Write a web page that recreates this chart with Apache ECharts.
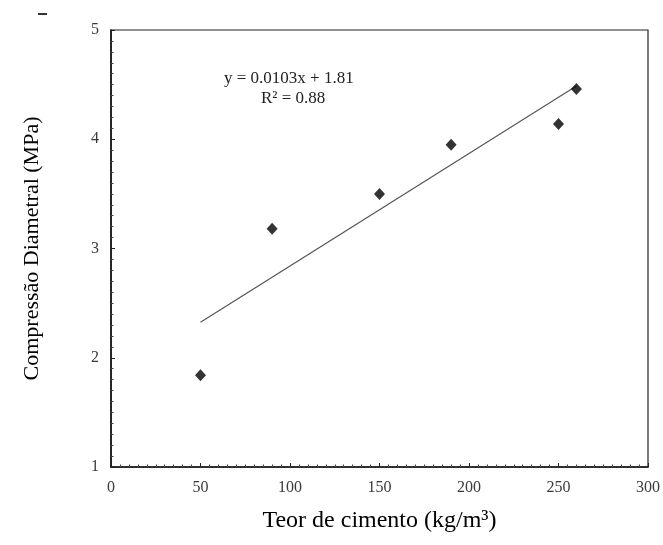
<!DOCTYPE html>
<html>
<head>
<meta charset="utf-8">
<script src="https://cdn.jsdelivr.net/npm/echarts@6/dist/echarts.min.js"></script>
<style>
  html, body { margin: 0; padding: 0; background: #fff; }
  #chart { width: 663px; height: 545px; }
</style>
</head>
<body>
<div id="chart"></div>
<script>
// Cement content (kg/m³) and diametral compression strength (MPa)
const cementContent = [50, 90, 150, 190, 250, 260];
const strength = [1.84, 3.18, 3.50, 3.95, 4.14, 4.46];

// Linear trend: y = slope * x + intercept, drawn over the data range
const trendSlope = 0.0103;
const trendIntercept = 1.81;
const trendR2 = 0.88;
const trendRange = [50, 260];

const xTicks = { min: 0, max: 300, interval: 50 };
const yTicks = { min: 1, max: 5, interval: 1 };

const trendLine = trendRange.map(x => [x, trendSlope * x + trendIntercept]);
const points = cementContent.map((x, i) => [x, strength[i]]);

const serif = '"Liberation Serif", "DejaVu Serif", serif';

const chart = echarts.init(document.getElementById('chart'), null, { renderer: 'canvas' });
chart.setOption({
  animation: false,
  backgroundColor: '#fff',
  grid: {
    left: 111, top: 30, right: 12, bottom: 78,
    show: true, borderColor: '#222', borderWidth: 1.2, backgroundColor: 'transparent'
  },
  xAxis: {
    type: 'value',
    min: xTicks.min, max: xTicks.max, interval: xTicks.interval,
    name: 'Teor de cimento (kg/m³)',
    nameLocation: 'middle',
    nameGap: 42,
    nameTextStyle: { fontFamily: serif, fontSize: 24, color: '#000' },
    axisLine: { show: true, lineStyle: { color: '#111', width: 1.6 } },
    axisTick: { show: true, inside: true, length: 4, lineStyle: { color: '#222' } },
    minorTick: { show: true, splitNumber: 10, length: 2.5, lineStyle: { color: '#444' } },
    axisLabel: { fontFamily: serif, fontSize: 16, color: '#3a3a3a', margin: 13 },
    splitLine: { show: false }
  },
  yAxis: {
    type: 'value',
    min: yTicks.min, max: yTicks.max, interval: yTicks.interval,
    name: 'Compressão Diametral (MPa)',
    nameLocation: 'middle',
    nameGap: 68,
    nameTextStyle: { fontFamily: serif, fontSize: 22, color: '#000' },
    axisLine: { show: true, lineStyle: { color: '#111', width: 1.6 } },
    axisTick: { show: true, inside: true, length: 4, lineStyle: { color: '#222' } },
    minorTick: { show: true, splitNumber: 10, length: 2.5, lineStyle: { color: '#444' } },
    axisLabel: { fontFamily: serif, fontSize: 16, color: '#3a3a3a', margin: 12 },
    splitLine: { show: false }
  },
  series: [
    {
      name: 'trend',
      type: 'line',
      data: trendLine,
      symbol: 'none',
      lineStyle: { color: '#555', width: 1.2 },
      z: 2
    },
    {
      name: 'data',
      type: 'scatter',
      data: points,
      symbol: 'diamond',
      symbolSize: [11, 12],
      itemStyle: { color: '#000' },
      z: 3
    }
  ],
  graphic: [
    {
      type: 'text',
      left: 224, top: 70,
      style: {
        text: 'y = 0.0103x + 1.81',
        fontFamily: serif, fontSize: 17, fill: '#222'
      }
    },
    {
      type: 'text',
      left: 261, top: 90,
      style: {
        text: 'R² = ' + trendR2.toFixed(2),
        fontFamily: serif, fontSize: 17, fill: '#222'
      }
    },
    {
      type: 'rect',
      shape: { x: 38, y: 13, width: 9, height: 2 },
      style: { fill: '#333' }
    }
  ]
});
</script>
</body>
</html>
